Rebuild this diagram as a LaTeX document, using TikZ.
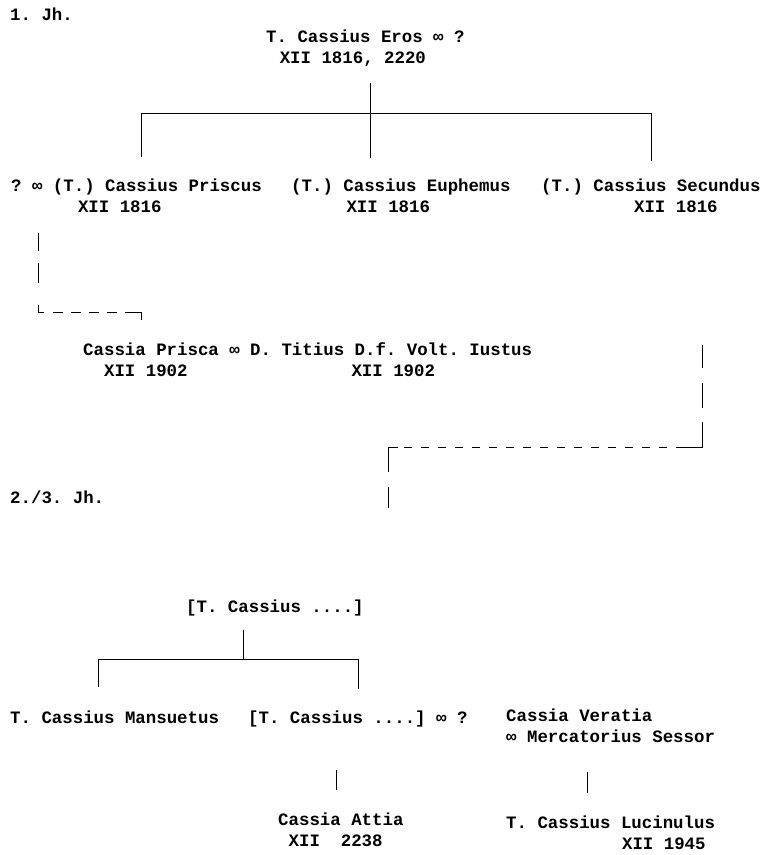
\documentclass[tikz,border=0pt]{standalone}
\usepackage{fontspec}
\newfontfamily\gen{Liberation Mono}
% width of n typed characters
\newcommand\sk[1]{\hspace*{\fpeval{0.6*#1}em}}
\tikzset{
  pers/.style={font=\gen\bfseries\fontsize{17.4}{21}\selectfont\frenchspacing,
    inner sep=0pt, anchor=north west, align=left, execute at begin node=\strut},
  stem/.style={line width=1pt}
}
\begin{document}
\begin{tikzpicture}[x=1pt,y=-1pt]
        \useasboundingbox (0,0) rectangle (760,855);
        % Nodes
        \node at (10,5.3) [pers] (jh1) {1. Jh.};
        \node at (266,29.3) [pers] (eros) {T. Cassius Eros ∞ ?\\\sk{1.3}XII 1816, 2220};
        \node at (11,178.3) [pers] (priscus) {? ∞ (T.) Cassius Priscus\\\sk{6.4}XII 1816};
        \node at (291,178.3) [pers] (euphemus) {(T.) Cassius Euphemus\\\sk{5.3}XII 1816};
        \node at (541,178.3) [pers] (secundus) {(T.) Cassius Secundus\\\sk{8.9}XII 1816};
        \node at (83,342.3) [pers] (prisca) {Cassia Prisca ∞ D. Titius D.f. Volt. Iustus\\\sk{2}XII 1902\sk{15.7}XII 1902};
        \node at (10,488.3) [pers] (jh2) {2./3. Jh.};
        \node at (186,597.3) [pers] (cassius) {[T. Cassius ....]};
        \node at (10,708.3) [pers] (mansuetus) {T. Cassius Mansuetus};
        \node at (248,708.3) [pers] (cassiusb) {[T. Cassius ....] ∞ ?};
        \node at (506,708.3) [pers] (veratia) {Cassia Veratia\\∞ Mercatorius Sessor};
        \node at (278,812.3) [pers] (attia) {Cassia Attia\\\sk{1}XII\sk{2}2238};
        \node at (506,815.3) [pers] (lucinulus) {T. Cassius Lucinulus\\\sk{11.1}XII 1945};

        % Points
        \coordinate (erosdrop) at (370,83);
        \coordinate (erosbar) at (370,113);
        \coordinate (priscusdrop) at (141,157);
        \coordinate (euphemusdrop) at (370,158);
        \coordinate (secundusdrop) at (651,161);
        \coordinate (priscusline) at (38,233);
        \coordinate (priscuscorner) at (38,312);
        \coordinate (priscaturn) at (141,312);
        \coordinate (priscadrop) at (141,320);
        \coordinate (secundusline) at (702,345);
        \coordinate (secunduscorner) at (702,447);
        \coordinate (secundusbend) at (676,447);
        \coordinate (descbend) at (398,447);
        \coordinate (desccorner) at (388,447);
        \coordinate (descend) at (388,508);
        \coordinate (cassiusdrop) at (243,630);
        \coordinate (cassiusbar) at (243,659);
        \coordinate (mansuetusdrop) at (98,687);
        \coordinate (cassiusbdrop) at (358,689);
        \coordinate (attiatop) at (336,770);
        \coordinate (attiabot) at (336,790);
        \coordinate (lucinulustop) at (587,772);
        \coordinate (lucinulusbot) at (587,793);

        % Lines
        \draw[stem] (erosdrop) -- (euphemusdrop);
        \draw[stem] (priscusdrop) -- (priscusdrop |- erosbar) -- (secundusdrop |- erosbar) -- (secundusdrop);

        \draw[stem, dash pattern=on 18pt off 12pt on 20pt off 22pt on 7pt off 1pt] (priscusline) -- (priscuscorner);
        \draw[stem, dash pattern=on 6pt off 9pt on 10pt off 8pt on 10pt off 8pt on 10pt off 8pt on 10pt off 8pt on 24pt off 1pt]
          (priscuscorner) -- (priscaturn) -- (priscadrop);

        \draw[stem, dash pattern=on 23pt off 15pt on 25pt off 14pt on 51pt off 1pt] (secundusline) -- (secunduscorner) -- (secundusbend);
        \draw[stem, dash pattern=on 8pt off 9pt, dash phase=8pt] (secundusbend) -- (descbend);
        \draw[stem, dash pattern=on 35pt off 15pt on 21pt off 1pt] (descbend) -- (desccorner) -- (descend);

        \draw[stem] (cassiusdrop) -- (cassiusbar);
        \draw[stem] (mansuetusdrop) -- (mansuetusdrop |- cassiusbar) -- (cassiusbdrop |- cassiusbar) -- (cassiusbdrop);
        \draw[stem] (attiatop) -- (attiabot);
        \draw[stem] (lucinulustop) -- (lucinulusbot);
    \end{tikzpicture}
\end{document}
